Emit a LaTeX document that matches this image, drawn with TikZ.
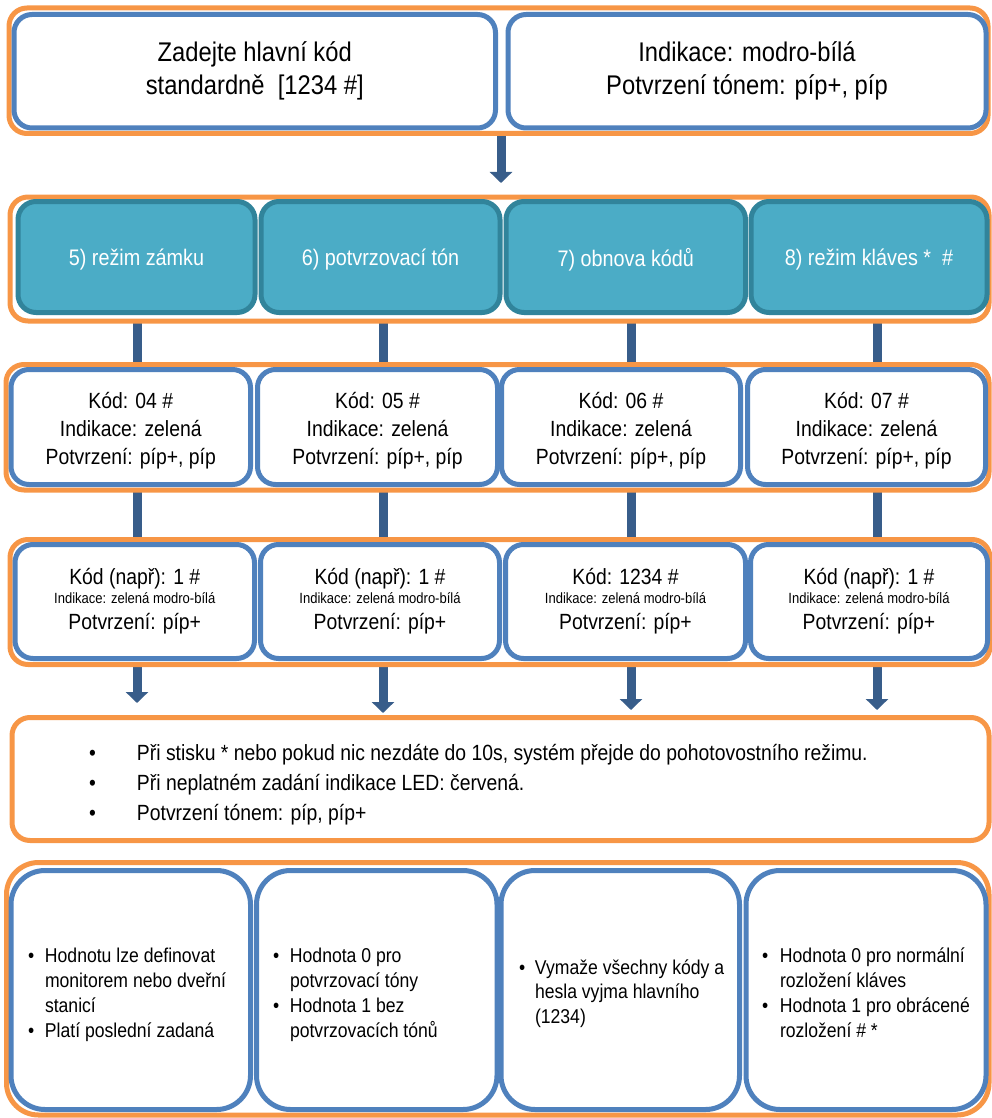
\documentclass[tikz,border=0pt]{standalone}
\usepackage{fontspec}
\setmainfont{Liberation Sans}[FakeStretch=0.88]
\usetikzlibrary{arrows.meta,calc}
\definecolor{cOrange}{HTML}{F79646}
\definecolor{cBlue}{HTML}{4F81BD}
\definecolor{cTeal}{HTML}{4BACC6}
\definecolor{cTealD}{HTML}{31849B}
\definecolor{cArrow}{HTML}{385D8A}
\begin{document}
\begin{tikzpicture}[x=1pt,y=-1pt,
  frame/.style={draw=cOrange,fill=white,line width=5pt,rounded corners=18pt,inner sep=0pt,outer sep=0pt},
  bluebox/.style={draw=cBlue,fill=white,line width=5pt,rounded corners=18pt,inner sep=0pt,outer sep=0pt,align=center},
  tealbox/.style={draw=cTealD,fill=cTeal,line width=5pt,rounded corners=18pt,inner sep=0pt,outer sep=0pt},
  tealtxt/.style={text=white,inner sep=0pt,align=center,font=\fontsize{22.5}{26}\selectfont},
  conn/.style={draw=cArrow,line width=9pt},
  arr/.style={conn,-{Triangle[width=22pt,length=11pt]}},
  rowtxt/.style={inner sep=0pt,align=center,font=\fontsize{22}{28}\selectfont},
  small4/.style={font=\fontsize{22}{22.5}\selectfont},
  bul/.style={anchor=west,inner sep=0pt,outer sep=0pt,align=left,font=\fontsize{20}{24.8}\selectfont}
]
\useasboundingbox (0,0) rectangle (992,1118);
% column coordinates of the connectors
\coordinate (colA) at (137,0);
\coordinate (colB) at (383,0);
\coordinate (colC) at (631,0);
\coordinate (colD) at (877,0);
\coordinate (colT) at (501,0);

% ---------- frame positions
\path (498.5,70.75) node[minimum width=979pt,minimum height=125.5pt,inner sep=0pt,outer sep=0pt] (o1) {};
\path (499.5,259) node[minimum width=979pt,minimum height=124pt,inner sep=0pt,outer sep=0pt] (o2) {};
\path (497.5,427.25) node[minimum width=983pt,minimum height=125.5pt,inner sep=0pt,outer sep=0pt] (o3) {};
\path (500,602) node[minimum width=980pt,minimum height=125pt,inner sep=0pt,outer sep=0pt] (o4) {};
\path (500.5,779) node[minimum width=977pt,minimum height=123pt,inner sep=0pt,outer sep=0pt] (o5) {};
\path (497.75,988.75) node[minimum width=982.5pt,minimum height=252.5pt,inner sep=0pt,outer sep=0pt] (o6) {};

% ---------- connectors (behind frames)
\draw[arr] (o1.south -| colT) -- ($(o2.north -| colT)+(0,-14)$);
\foreach \c in {A,B,C,D}{
  \draw[conn] (o2.south -| col\c) -- (o3.north -| col\c);
  \draw[conn] (o3.south -| col\c) -- (o4.north -| col\c);
}
\draw[arr] (o4.south -| colA) -- ($(o5.north -| colA)+(0,-14.5)$);
\draw[arr] (o4.south -| colB) -- ($(o5.north -| colB)+(0,-4.5)$);
\draw[arr] (o4.south -| colC) -- ($(o5.north -| colC)+(0,-7.5)$);
\draw[arr] (o4.south -| colD) -- ($(o5.north -| colD)+(0,-7.5)$);

% ---------- frames
\draw[frame] (o1.north west) rectangle (o1.south east);
\draw[frame] (o2.north west) rectangle (o2.south east);
\draw[frame] (o3.north west) rectangle (o3.south east);
\draw[frame] (o4.north west) rectangle (o4.south east);
\draw[frame] (o5.north west) rectangle (o5.south east);
\draw[frame,rounded corners=32pt] (o6.north west) rectangle (o6.south east);

% ---------- row 1
\node[bluebox,minimum width=481.5pt,minimum height=113.5pt,font=\fontsize{27}{33}\selectfont] (top1) at (254.75,71.25)
  {Zadejte hlavní kód\\standardně\ \ [1234 \#]};
\node[bluebox,minimum width=478pt,minimum height=113.5pt,font=\fontsize{27}{33}\selectfont] (top2) at (747,71.25)
  {Indikace: modro-bílá\\Potvrzení tónem: píp+, píp};

% ---------- row 2 (teal)
\node[tealbox,minimum width=237pt,minimum height=111pt] (tA) at (136.5,257) {};
\node[tealbox,minimum width=239pt,minimum height=111pt] (tB) at (380.5,257) {};
\node[tealbox,minimum width=239.5pt,minimum height=111pt] (tC) at (625.75,257) {};
\node[tealbox,minimum width=236pt,minimum height=111pt] (tD) at (869,257) {};
\node[tealtxt] (tAt) at ($(tA.center)+(0,2.5)$) {5) režim zámku};
\node[tealtxt] (tBt) at ($(tB.center)+(0,2.5)$) {6) potvrzovací tón};
\node[tealtxt] (tCt) at ($(tC.center)+(0,2.5)$) {7) obnova kódů};
\node[tealtxt] (tDt) at ($(tD.center)+(0,2.5)$) {8) režim kláves *\ \ \#};

% ---------- row 3
\node[bluebox,minimum width=239.5pt,minimum height=115pt] (rA) at (130.75,427) {};
\node[bluebox,minimum width=240pt,minimum height=115pt] (rB) at (377.5,427) {};
\node[bluebox,minimum width=239pt,minimum height=115pt] (rC) at (621,427) {};
\node[bluebox,minimum width=238pt,minimum height=115pt] (rD) at (866.5,427) {};
\node[rowtxt] (rAt) at ($(rA.center)+(0,3.5)$) {Kód: 04 \#\\Indikace: zelená\\Potvrzení: píp+, píp};
\node[rowtxt] (rBt) at ($(rB.center)+(0,3.5)$) {Kód: 05 \#\\Indikace: zelená\\Potvrzení: píp+, píp};
\node[rowtxt] (rCt) at ($(rC.center)+(0,3.5)$) {Kód: 06 \#\\Indikace: zelená\\Potvrzení: píp+, píp};
\node[rowtxt] (rDt) at ($(rD.center)+(0,3.5)$) {Kód: 07 \#\\Indikace: zelená\\Potvrzení: píp+, píp};

% ---------- row 4
\node[bluebox,small4,minimum width=239.5pt,minimum height=114pt] (sA) at (134.75,601.5)
  {Kód (např): 1 \#\\[-3.5pt]{\fontsize{14.8}{15}\selectfont Indikace: zelená modro-bílá}\\[3.5pt]Potvrzení: píp+};
\node[bluebox,small4,minimum width=239pt,minimum height=114pt] (sB) at (380,601.5)
  {Kód (např): 1 \#\\[-3.5pt]{\fontsize{14.8}{15}\selectfont Indikace: zelená modro-bílá}\\[3.5pt]Potvrzení: píp+};
\node[bluebox,small4,minimum width=240pt,minimum height=114pt] (sC) at (625.5,601.5)
  {Kód: 1234 \#\\[-3.5pt]{\fontsize{14.8}{15}\selectfont Indikace: zelená modro-bílá}\\[3.5pt]Potvrzení: píp+};
\node[bluebox,small4,minimum width=237pt,minimum height=114pt] (sD) at (869,601.5)
  {Kód (např): 1 \#\\[-3.5pt]{\fontsize{14.8}{15}\selectfont Indikace: zelená modro-bílá}\\[3.5pt]Potvrzení: píp+};

% ---------- bullets box text
\node[bul,font=\fontsize{22}{30}\selectfont] (notes) at (89,784)
  {\begin{tabular}{@{}l@{}l@{}}
   \makebox[48pt][l]{\textbullet} & Při stisku * nebo pokud nic nezdáte do 10s, systém přejde do pohotovostního režimu.\\
   \makebox[48pt][l]{\textbullet} & Při neplatném zadání indikace LED: červená.\\
   \makebox[48pt][l]{\textbullet} & Potvrzení tónem: píp, píp+
   \end{tabular}};

% ---------- bottom row
\node[bluebox,rounded corners=34pt,minimum width=239.5pt,minimum height=239pt] (bA) at (130.75,990) {};
\node[bluebox,rounded corners=34pt,minimum width=240.5pt,minimum height=239pt] (bB) at (376.75,990) {};
\node[bluebox,rounded corners=34pt,minimum width=238.5pt,minimum height=239pt] (bC) at (620.25,990) {};
\node[bluebox,rounded corners=34pt,minimum width=240pt,minimum height=239pt] (bD) at (866,990) {};

\node[bul] (tbA) at (28,995)
  {\begin{tabular}{@{}l@{}l@{}}
   \makebox[17pt][l]{\textbullet} & Hodnotu lze definovat\\
    & monitorem nebo dveřní\\
    & stanicí\\
   \makebox[17pt][l]{\textbullet} & Platí poslední zadaná
   \end{tabular}};
\node[bul] (tbB) at (273,995)
  {\begin{tabular}{@{}l@{}l@{}}
   \makebox[17pt][l]{\textbullet} & Hodnota 0 pro\\
    & potvrzovací tóny\\
   \makebox[17pt][l]{\textbullet} & Hodnota 1 bez\\
    & potvrzovacích tónů
   \end{tabular}};
\node[bul] (tbC) at (519,994)
  {\begin{tabular}{@{}l@{}l@{}}
   \makebox[16pt][l]{\textbullet} & Vymaže všechny kódy a\\
    & hesla vyjma hlavního\\
    & (1234)
   \end{tabular}};
\node[bul] (tbD) at (762,995)
  {\begin{tabular}{@{}l@{}l@{}}
   \makebox[18pt][l]{\textbullet} & Hodnota 0 pro normální\\
    & rozložení kláves\\
   \makebox[18pt][l]{\textbullet} & Hodnota 1 pro obrácené\\
    & rozložení \# *
   \end{tabular}};
\end{tikzpicture}
\end{document}
